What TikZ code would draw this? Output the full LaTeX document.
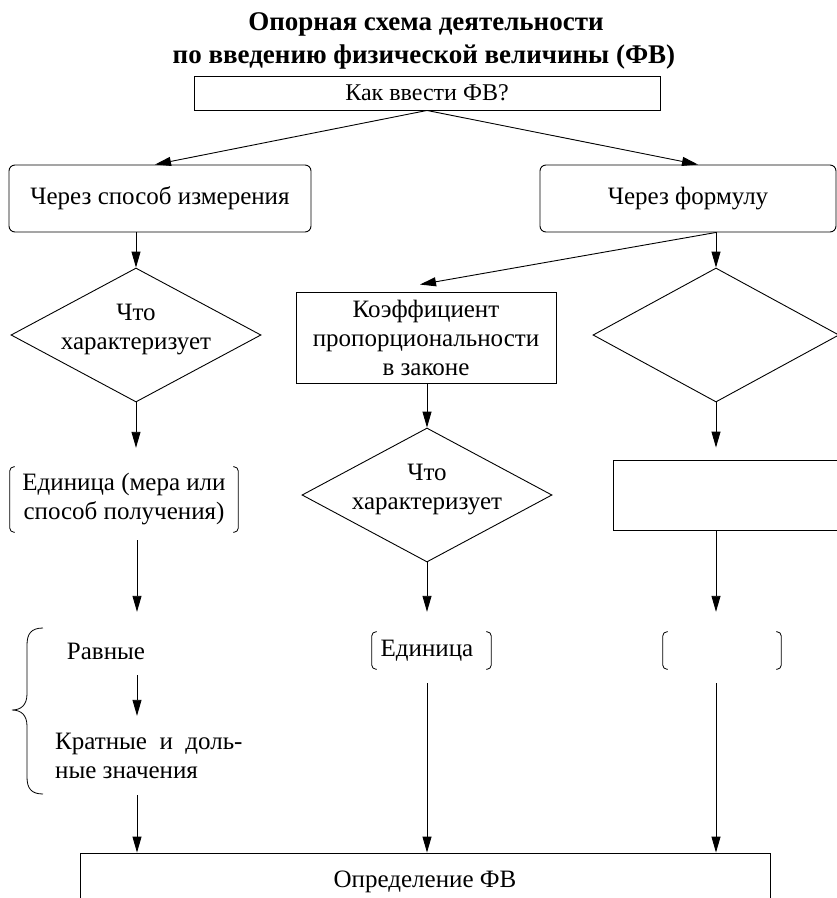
\documentclass[tikz,border=0pt]{standalone}
\usepackage{fontspec}
\setmainfont{Liberation Serif}
\usetikzlibrary{arrows.meta,shapes.geometric}
\begin{document}
\begin{tikzpicture}[x=1pt,y=-1pt,
  every node/.style={font=\fontsize{25}{29}\selectfont, inner sep=0pt},
  box/.style={draw, line width=0.9pt, rectangle},
  rbox/.style={box, rounded corners=6pt},
  dia/.style={draw, line width=0.9pt, diamond, minimum width=250pt, minimum height=134pt},
  dtext/.style={align=center, yshift=5pt},
  brnode/.style={rectangle, align=center},
  titlef/.style={anchor=base, font=\bfseries\fontsize{27}{33}\selectfont},
  arr/.style={line width=0.9pt, -{Triangle[length=16pt,width=9pt]}},
  brk/.style={line width=0.8pt, rounded corners=4pt},
]
\clip (0,0) rectangle (837,898);
\node[titlef] (t1) at (426,30) {Опорная схема деятельности};
\node[titlef] (t2) at (424,63) {по введению физической величины (ФВ)};
\node[box, minimum width=466pt, minimum height=34pt, font=\fontsize{24}{29}\selectfont] (q) at (427,93) {Как ввести ФВ?};
\node[rbox, minimum width=302pt, minimum height=67pt] (lb) at (160,198.5) {Через способ измерения};
\node[rbox, minimum width=296pt, minimum height=67pt] (rb) at (688,198.5) {Через формулу};
\node[dia, label={[dtext]center:Что\\характеризует}] (ld) at (136,335) {};
\node[box, minimum width=260pt, minimum height=91pt, align=center] (k) at (426,337.5) {Коэффициент\\пропорциональности\\в законе};
\node[dia, minimum width=246pt] (rd) at (716,335) {};
\node[brnode, minimum width=228pt, minimum height=65pt] (ua) at (124,499.5) {Единица (мера или\\способ получения)};
\node[dia, label={[dtext]center:Что\\характеризует}] (md) at (427,495) {};
\node[box, minimum width=226pt, minimum height=70pt] (rr) at (726,495) {};
\node[brnode, minimum width=119pt, minimum height=37pt] (mu) at (431.5,650.5) {\raisebox{-3pt}{Единица}\hspace{9pt}};
\node[brnode, minimum width=118pt, minimum height=37pt] (ru) at (722,650.5) {};
\node[minimum height=47pt] (rv) at (106,651.5) {Равные};
\node[minimum height=79pt, align=left, anchor=west] (kr) at (55,755.5) {Кратные\ \ и\ \ доль-\\ные значения};
\node[box, minimum width=690pt, minimum height=57pt] (def) at (425,881.5) {Определение ФВ};
\coordinate (cA) at (137,0);
% connectors
\draw[arr] (q.south) -- ([xshift=-5pt]lb.north);
\draw[arr] (q.south) -- ([xshift=10pt]rb.north);
\draw[arr] (ld.north |- lb.south) -- (ld.north);
\draw[arr, shorten >=19pt] (ld.south) -- (ld.south |- ua.north);
\draw[arr, shorten <=8pt, shorten >=16pt] (cA |- ua.south) -- (cA |- rv.north);
\draw[arr] (cA |- rv.south) -- (cA |- kr.north);
\draw[arr] (cA |- kr.south) -- (cA |- def.north);
\draw[arr] (rd.north |- rb.south) -- ([xshift=-6pt,yshift=7pt]k.north);
\draw[arr] (rd.north |- rb.south) -- (rd.north);
\draw[arr] (k.south -| md.north) -- (md.north);
\draw[arr, shorten >=20pt] (md.south) -- (md.south |- mu.north);
\draw[arr, shorten <=14pt] (md.south |- mu.south) -- (md.south |- def.north);
\draw[arr, shorten >=12pt] (rd.south) -- (rd.south |- rr.north);
\draw[arr, shorten >=20pt] (rd.south |- rr.south) -- (rd.south |- ru.north);
\draw[arr, shorten <=14pt] (rd.south |- ru.south) -- (rd.south |- def.north);
% brackets
\foreach \n in {ua,mu,ru} {
  \draw[brk] ([xshift=5pt]\n.north west) -- (\n.north west) -- (\n.south west) -- ([xshift=5pt]\n.south west);
  \draw[brk] ([xshift=-5pt]\n.north east) -- (\n.north east) -- (\n.south east) -- ([xshift=-5pt]\n.south east);
}
% curly brace
\draw[line width=0.8pt] (43,628) .. controls (31,628) and (27,634) .. (27,645) -- (27,694)
  .. controls (27,705) and (21,710) .. (12,710) .. controls (21,710) and (27,715) .. (27,726)
  -- (27,777) .. controls (27,788) and (31,794) .. (43,794);
\end{tikzpicture}
\end{document}
